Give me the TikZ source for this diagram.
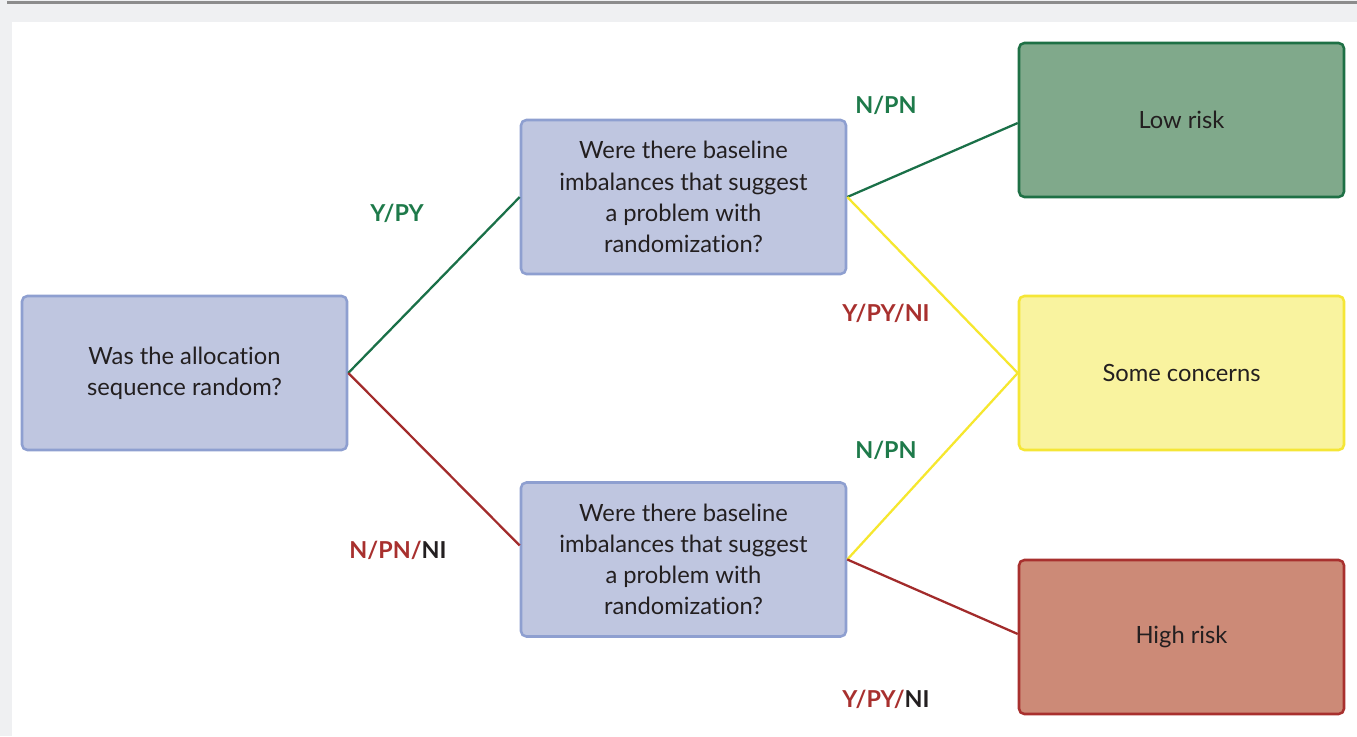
\documentclass[tikz,border=0pt]{standalone}
\usepackage{fontspec}
\setmainfont{Lato}[Ligatures={NoCommon}]
\definecolor{bggray}{HTML}{EFF0F2}
\definecolor{topline}{HTML}{8C8C8C}
\definecolor{qfill}{HTML}{BFC6E0}
\definecolor{qdraw}{HTML}{8E9FD0}
\definecolor{lowfill}{HTML}{80A98B}
\definecolor{lowdraw}{HTML}{1E7045}
\definecolor{somefill}{HTML}{F9F39F}
\definecolor{somedraw}{HTML}{F5E636}
\definecolor{highfill}{HTML}{CC8A77}
\definecolor{highdraw}{HTML}{A8302E}
\definecolor{lgreen}{HTML}{1A7048}
\definecolor{lred}{HTML}{A22B2B}
\definecolor{lyellow}{HTML}{F6E72E}
\definecolor{tgreen}{HTML}{1E7A4A}
\definecolor{tred}{HTML}{A8302E}
\definecolor{tdark}{HTML}{231F20}
\tikzset{
  box/.style={rounded corners=4pt, line width=1.9pt, minimum width=325*0.75pt, minimum height=154*0.75pt,
    align=center, text=tdark, font=\fontsize{17.8}{23.4}\selectfont, inner sep=0pt},
  qbox/.style={box, fill=qfill, draw=qdraw},
  lowbox/.style={box, fill=lowfill, draw=lowdraw},
  somebox/.style={box, fill=somefill, draw=somedraw},
  highbox/.style={box, fill=highfill, draw=highdraw},
  conn/.style={line width=1.7pt},
  lab/.style={font=\bfseries\fontsize{17.5}{20}\selectfont, inner sep=0pt},
  res/.style={text=tdark, font=\fontsize{17.8}{23.4}\selectfont}
}
\begin{document}
\begin{tikzpicture}[x=0.75pt, y=-0.75pt]
\useasboundingbox (0,0) rectangle (1357,736);
\fill[bggray] (0,0) rectangle (1357,736);
\fill[white] (12,22) rectangle (1357,736);
\fill[topline] (7,1) rectangle (1357,3.5);

\node[qbox] (start) at (184.5,373) {Was the allocation\\sequence random?};
\node[qbox] (q1) at (683.5,197) {Were there baseline\\imbalances that suggest\\a problem with\\randomization?};
\node[qbox] (q2) at (683.5,559.5) {Were there baseline\\imbalances that suggest\\a problem with\\randomization?};
\node[lowbox] (low) at (1181.5,120) {};
\node[somebox] (some) at (1181.5,373) {};
\node[highbox] (high) at (1181.5,637) {};
\node[res] (lowt) at (1181.5,120) {Low risk};
\node[res] (somet) at (1181.5,373) {Some concerns};
\node[res] (hight) at (1181.5,637) {High risk};

\coordinate (q2in) at ([yshift=14*0.75pt]q2.west);
\coordinate (lowin) at ([yshift=-3*0.75pt]low.west);
\coordinate (highin) at ([yshift=3*0.75pt]high.west);

\draw[conn, lgreen] (start.east) -- (q1.west);
\draw[conn, lred] (start.east) -- (q2in);
\draw[conn, lgreen] (q1.east) -- (lowin);
\draw[conn, lyellow] (q1.east) -- (some.west);
\draw[conn, lyellow] (q2.east) -- (some.west);
\draw[conn, lred] (q2.east) -- (highin);

\node[lab, text=tgreen] (l1) at (397,213) {Y/PY};
\node[lab, text=tred] (l2) at (398,550) {N/PN/\textcolor{tdark}{NI}};
\node[lab, text=tgreen] (l3) at (886,105) {N/PN};
\node[lab, text=tred] (l4) at (886,313) {Y/PY/NI};
\node[lab, text=tgreen] (l5) at (886,450) {N/PN};
\node[lab, text=tred] (l6) at (886,699) {Y/PY/\textcolor{tdark}{NI}};
\end{tikzpicture}
\end{document}
